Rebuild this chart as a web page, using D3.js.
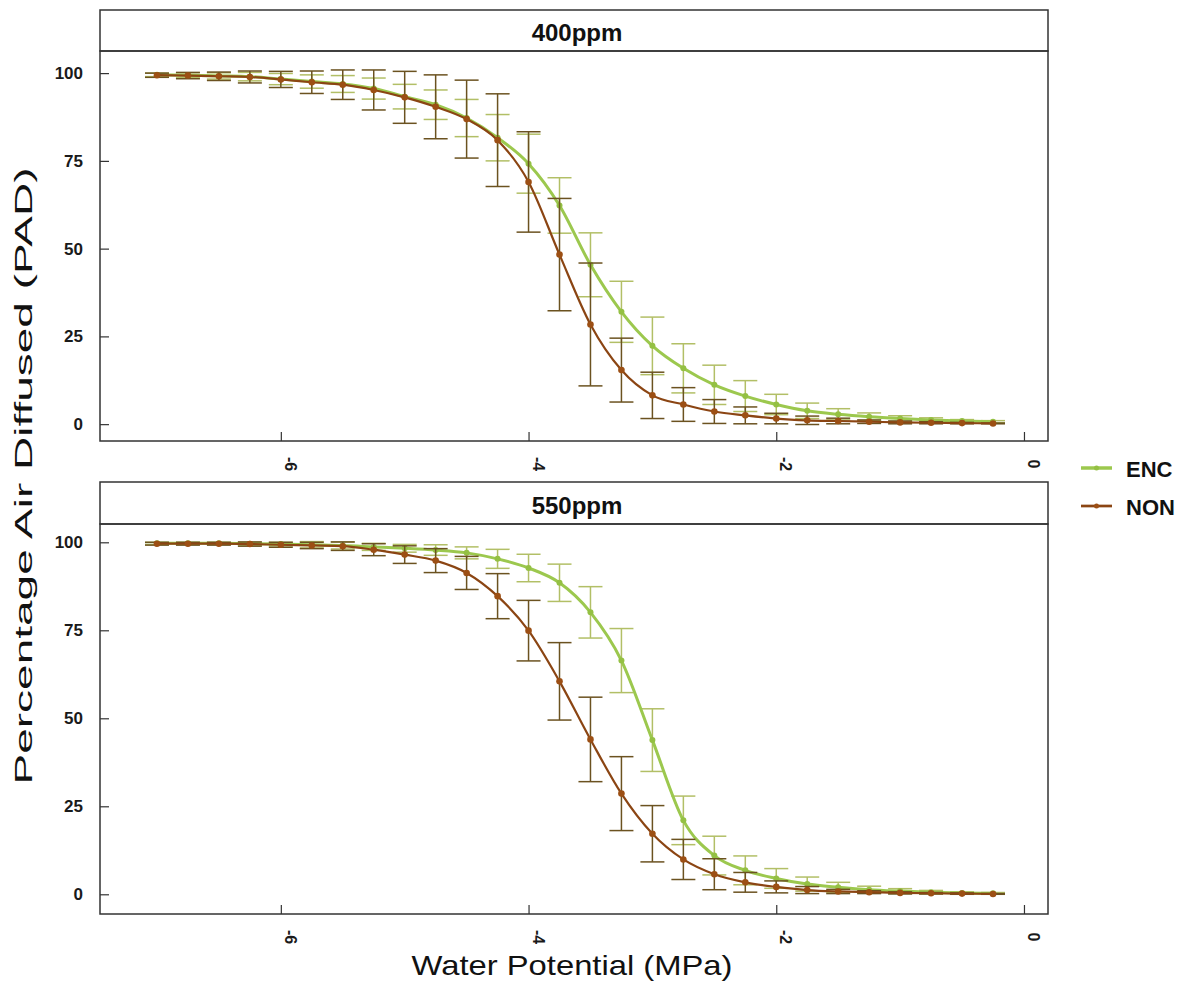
<!DOCTYPE html>
<html>
<head>
<meta charset="utf-8">
<script src="https://cdn.jsdelivr.net/npm/d3@7"></script>
<style>
  html, body { margin: 0; padding: 0; background: #fff; }
  svg { display: block; font-family: "Liberation Sans", Arial, sans-serif; }
</style>
</head>
<body>
<svg id="chart" width="1189" height="990"></svg>
<script>
// ---------- DATA ----------
const panels = ["400ppm", "550ppm"];
const seriesNames = ["ENC", "NON"];
const waterPotential = [-7, -6.75, -6.5, -6.25, -6, -5.75, -5.5, -5.25, -5, -4.75, -4.5, -4.25, -4, -3.75,
  -3.5, -3.25, -3, -2.75, -2.5, -2.25, -2, -1.75, -1.5, -1.25, -1, -0.75, -0.5, -0.25];

const enc400 = [99.5, 99.4, 99.2, 99.0, 98.3, 97.6, 96.9, 95.6, 93.3, 91.0, 87.2, 81.6, 74.2, 62.3,
  45.4, 32.0, 22.3, 15.9, 11.2, 8.0, 5.6, 3.8, 2.8, 2.1, 1.6, 1.2, 0.9, 0.7];
const encSE400 = [0.5, 0.7, 0.9, 1.2, 1.6, 1.9, 2.4, 3.0, 3.5, 4.2, 5.3, 6.6, 8.4, 7.9,
  9.1, 8.7, 8.2, 7.0, 5.6, 4.4, 2.9, 2.2, 1.6, 1.1, 0.8, 0.6, 0.4, 0.3];
const non400 = [99.4, 99.3, 99.1, 98.9, 98.2, 97.4, 96.7, 95.2, 93.1, 90.4, 86.9, 80.9, 69.0, 48.3,
  28.4, 15.4, 8.2, 5.6, 3.6, 2.5, 1.6, 1.1, 0.9, 0.7, 0.5, 0.4, 0.3, 0.2];
const nonSE400 = [0.6, 0.9, 1.2, 1.7, 2.3, 3.2, 4.2, 5.7, 7.4, 9.1, 11.1, 13.2, 14.3, 16.0,
  17.5, 9.1, 6.6, 4.8, 3.4, 2.4, 1.5, 1.2, 0.8, 0.5, 0.4, 0.3, 0.2, 0.1];

const enc550 = [99.7, 99.7, 99.7, 99.6, 99.5, 99.3, 99.1, 98.7, 98.3, 97.8, 97.0, 95.3, 92.7, 88.5,
  80.1, 66.4, 43.8, 21.0, 11.0, 6.8, 4.5, 2.9, 2.0, 1.3, 0.9, 0.6, 0.4, 0.3];
const encSE550 = [0.3, 0.3, 0.3, 0.4, 0.5, 0.9, 1.0, 1.0, 1.1, 1.5, 1.7, 2.7, 3.9, 5.3,
  7.3, 9.1, 8.9, 6.9, 5.5, 4.1, 2.8, 2.0, 1.4, 1.0, 0.7, 0.5, 0.3, 0.2];
const non550 = [99.6, 99.6, 99.6, 99.5, 99.3, 99.1, 98.9, 97.9, 96.5, 94.8, 91.3, 84.7, 74.9, 60.5,
  44.0, 28.6, 17.2, 9.9, 5.7, 3.4, 2.1, 1.2, 0.8, 0.6, 0.4, 0.3, 0.2, 0.1];
const nonSE550 = [0.4, 0.4, 0.4, 0.6, 0.7, 0.9, 1.2, 1.7, 2.5, 3.4, 4.7, 6.4, 8.6, 11.0,
  12.0, 10.5, 8.0, 5.7, 4.4, 2.8, 1.7, 1.0, 0.6, 0.4, 0.3, 0.2, 0.2, 0.1];

const yTicks = [0, 25, 50, 75, 100];
const xTicks = [-6, -4, -2, 0];
const xTickLabels = ["-6", "-4", "-2", "0"];
const xTitle = "Water Potential (MPa)";
const yTitle = "Percentage Air Diffused (PAD)";

// ---------- STYLE / LAYOUT ----------
const colors = {
  ENC: { line: "#9cc84e", point: "#94c043", err: "#b2bf66" },
  NON: { line: "#8b4513", point: "#9c4f14", err: "#6b5220" }
};
const widths = { ENC: 3, NON: 2.2 };
const plotLeft = 100, plotRight = 1048;
const panelLayout = [
  { stripTop: 10, plotTop: 51, plotBottom: 441, yDomain: [-4.8, 106.3] },
  { stripTop: 482, plotTop: 524, plotBottom: 914, yDomain: [-5.6, 105.2] }
];
const panelData = [
  { ENC: enc400, ENCse: encSE400, NON: non400, NONse: nonSE400 },
  { ENC: enc550, ENCse: encSE550, NON: non550, NONse: nonSE550 }
];

const svg = d3.select("#chart");
const x = d3.scaleLinear().domain([-7.46, 0.194]).range([plotLeft, plotRight]);
const axisColor = "#333";

panels.forEach((name, pi) => {
  const L = panelLayout[pi];
  const y = d3.scaleLinear().domain(L.yDomain).range([L.plotBottom, L.plotTop]);
  const g = svg.append("g");

  // strip
  g.append("rect").attr("x", plotLeft).attr("y", L.stripTop)
    .attr("width", plotRight - plotLeft).attr("height", L.plotTop - L.stripTop)
    .attr("fill", "#fff").attr("stroke", axisColor).attr("stroke-width", 1.5);
  g.append("text").attr("x", (plotLeft + plotRight) / 2 + 3).attr("y", L.plotTop - 10)
    .attr("text-anchor", "middle").attr("font-size", 24).attr("font-weight", "bold")
    .attr("fill", "#111").text(name);

  // panel border
  g.append("rect").attr("x", plotLeft).attr("y", L.plotTop)
    .attr("width", plotRight - plotLeft).attr("height", L.plotBottom - L.plotTop)
    .attr("fill", "none").attr("stroke", axisColor).attr("stroke-width", 1.5);

  // y axis (inward ticks)
  const yAxis = d3.axisRight(y).tickValues(yTicks).tickSize(9).tickFormat("");
  const ya = g.append("g").attr("transform", `translate(${plotLeft},0)`).call(yAxis);
  ya.select(".domain").remove();
  ya.selectAll("line").attr("stroke", axisColor).attr("stroke-width", 1.2);
  g.selectAll(".ylab").data(yTicks).enter().append("text").attr("class", "ylab")
    .attr("x", 83).attr("y", d => y(d) + 6)
    .attr("text-anchor", "end").attr("font-size", 17).attr("font-weight", "bold")
    .attr("fill", "#1a1a1a").text(d => d);

  // x axis (inward ticks)
  const xAxis = d3.axisTop(x).tickValues(xTicks).tickSize(9).tickFormat("");
  const xa = g.append("g").attr("transform", `translate(0,${L.plotBottom})`).call(xAxis);
  xa.select(".domain").remove();
  xa.selectAll("line").attr("stroke", axisColor).attr("stroke-width", 1.2);
  g.selectAll(".xlab").data(xTicks).enter().append("text").attr("class", "xlab")
    .attr("transform", (d) => `translate(${x(d) + 4},${L.plotBottom + 23}) rotate(90)`)
    .attr("text-anchor", "middle").attr("font-size", 16).attr("font-weight", "bold")
    .attr("fill", "#1a1a1a").text((d, i) => xTickLabels[i]);

  const D = panelData[pi];
  const line = d3.line().x((d, i) => x(waterPotential[i])).y(d => y(d)).curve(d3.curveMonotoneX);

  seriesNames.forEach(s => {
    const vals = D[s], se = D[s + "se"], c = colors[s];
    const eg = g.append("g");
    const rows = vals.map((v, i) => ({ xv: waterPotential[i], v, se: se[i] }));
    // error bars
    eg.selectAll(".ev").data(rows).enter().append("line").attr("class", "ev")
      .attr("x1", d => x(d.xv)).attr("x2", d => x(d.xv))
      .attr("y1", d => y(d.v + d.se)).attr("y2", d => y(d.v - d.se))
      .attr("stroke", c.err).attr("stroke-width", 1.5);
    [1, -1].forEach((sign, k) => {
      eg.selectAll(".cap" + k).data(rows).enter().append("line").attr("class", "cap" + k)
        .attr("x1", d => x(d.xv) - 12).attr("x2", d => x(d.xv) + 12)
        .attr("y1", d => y(d.v + sign * d.se))
        .attr("y2", d => y(d.v + sign * d.se))
        .attr("stroke", c.err).attr("stroke-width", 1.5);
    });
    // line
    eg.append("path").datum(vals).attr("d", line).attr("fill", "none")
      .attr("stroke", c.line).attr("stroke-width", widths[s]).attr("stroke-linejoin", "round")
      .attr("stroke-linecap", "round");
    // points
    eg.selectAll(".pt").data(rows).enter().append("circle").attr("class", "pt")
      .attr("cx", d => x(d.xv)).attr("cy", d => y(d.v))
      .attr("r", s === "NON" ? 3.3 : 3).attr("fill", c.point);
  });
});

// axis titles
svg.append("text").attr("x", 572).attr("y", 975).attr("text-anchor", "middle")
  .attr("font-size", 28).attr("fill", "#111")
  .attr("textLength", 321).attr("lengthAdjust", "spacingAndGlyphs").text(xTitle);
svg.append("text").attr("transform", "translate(32,476) rotate(-90)")
  .attr("text-anchor", "middle").attr("font-size", 23).attr("fill", "#111")
  .attr("textLength", 617).attr("lengthAdjust", "spacingAndGlyphs").text(yTitle);

// legend
const legendY = [468, 506];
seriesNames.forEach((s, i) => {
  const lg = svg.append("g");
  lg.append("line").attr("x1", 1081).attr("x2", 1112).attr("y1", legendY[i]).attr("y2", legendY[i])
    .attr("stroke", colors[s].line).attr("stroke-width", widths[s] + 0.5);
  lg.append("circle").attr("cx", 1096.5).attr("cy", legendY[i]).attr("r", 2.5).attr("fill", colors[s].point);
  lg.append("text").attr("x", 1126).attr("y", legendY[i] + 9).attr("font-size", 22)
    .attr("font-weight", "bold").attr("fill", "#111").text(s);
});
</script>
</body>
</html>
